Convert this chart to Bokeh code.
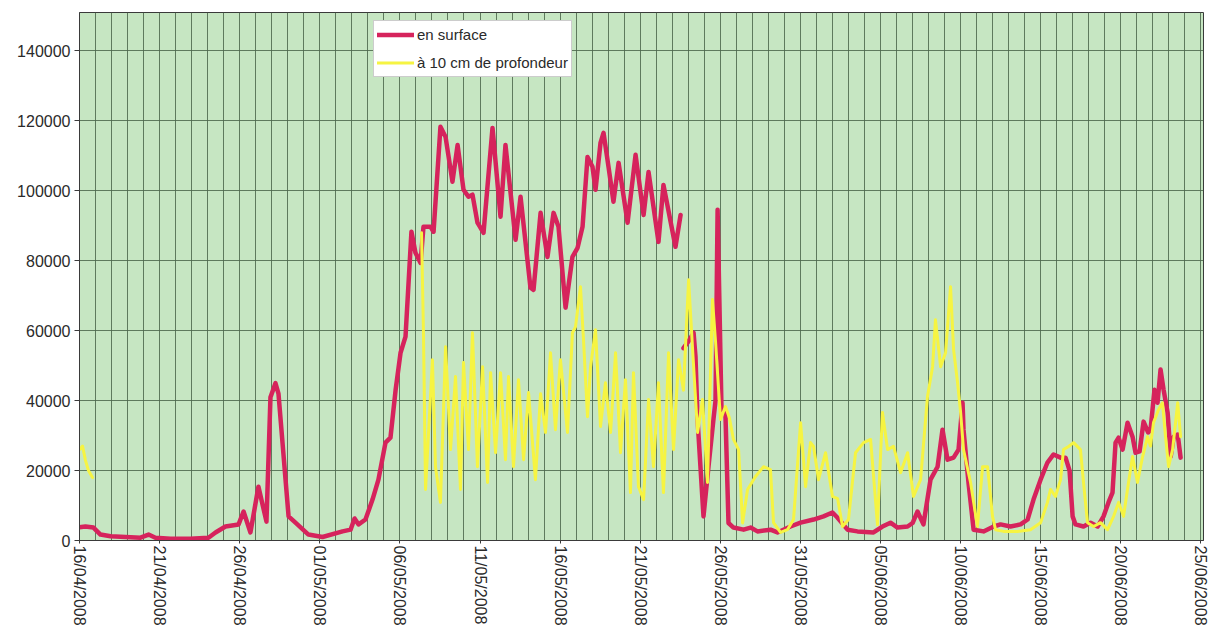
import math
from bokeh.plotting import figure
from bokeh.models import Legend, FixedTicker, NumeralTickFormatter, Range1d
from bokeh.embed import file_html
from bokeh.resources import INLINE

nan = float("nan")

# x values: days elapsed since 16/04/2008 00:00
red_days = [0.00, 0.37, 0.87, 1.31, 1.94, 2.87, 3.81, 4.31, 4.74, 5.68, 6.93, 8.05, 8.49, 9.11,
            9.93, 10.24, 10.67, 11.17, 11.67, 11.92, 12.23, 12.42, 13.05, 13.48, 14.29, 15.17,
            16.42, 16.92, 17.17, 17.42, 17.85, 18.29, 18.66, 19.10, 19.41, 19.73, 20.04, 20.35,
            20.72, 20.97, 21.29, 21.47, 21.91, 22.10, 22.53, 22.85, 23.28, 23.60, 23.97, 24.28,
            24.53, 24.84, 25.22, 25.78, 26.28, 26.59, 27.22, 27.53, 28.15, 28.34, 28.78, 29.21,
            29.59, 29.90, 30.34, 30.77, 31.09, 31.40, 31.71, 32.02, 32.21, 32.52, 32.71, 33.02,
            33.33, 33.65, 34.21, 34.71, 35.21, 35.52, 36.14, 36.45, 37.20, 37.52, 37.60, 37.70,
            38.02, 38.33, 38.45, 38.58, 38.95, 39.26, 39.58, 39.70, 39.83, 40.07, 40.32, 40.51,
            40.82, 41.45, 41.89, 42.32, 43.13, 43.57, 44.38, 45.01, 45.82, 46.44, 47.00, 47.32,
            47.94, 48.56, 49.56, 50.12, 50.62, 51.06, 51.69, 52.00, 52.31, 52.68, 53.12, 53.56,
            53.87, 54.18, 54.56, 54.87, 55.12, 55.18, 55.49, 55.81, 56.43, 57.06, 57.49, 58.11,
            58.74, 59.18, 59.55, 59.99, 60.42, 60.80, 61.24, 61.55, 61.80, 61.99, 62.17, 62.67,
            63.11, 63.55, 63.92, 64.23, 64.48, 64.67, 64.86, 65.11, 65.42, 65.73, 65.92, 66.17,
            66.42, 66.70, 66.85, 67.10, 67.29, 67.48, 67.67, 67.92, 68.11, 68.30, 68.55, 68.73]
red_values = [3800, 4000, 3700, 1700, 1200, 1000, 800, 1700, 800, 500, 500, 800, 2300, 4000,
              4600, 8300, 2300, 15400, 5400, 41000, 45000, 42000, 6900, 5100, 1700, 1000,
              2600, 3100, 6300, 4600, 6000, 11700, 17400, 28000, 29400, 43000, 53700, 58300,
              88300, 82300, 79400, 89700, 89700, 88300, 118300, 115400, 102600, 113100, 100300, 98300,
              98900, 90900, 88000, 118000, 92600, 113100, 86000, 98300, 72300, 71700, 93700, 81100,
              93700, 89700, 66600, 81100, 83700, 89700, 109700, 106900, 100300, 113700, 116600, 106900,
              96900, 108000, 90900, 110300, 93100, 105400, 85400, 101700, 84000, 93100, nan, 55000,
              57000, 59400, 52600, 34600, 6900, 21100, 35000, 40000, 94600, 38000, 36000, 5000,
              3700, 3100, 3700, 2600, 3100, 2300, 4000, 5100, 6000, 6900, 8000, 6500,
              3100, 2600, 2300, 4000, 5100, 3700, 4000, 5000, 8300, 4600, 17400, 21100,
              31700, 23100, 23700, 26000, 39400, 31700, 16600, 3100, 2600, 4000, 4600, 4000,
              4600, 6000, 11700, 17400, 22300, 24600, 23700, 23700, 20000, 6900, 4600, 4000,
              5100, 4000, 6900, 10900, 13700, 28000, 29400, 26000, 33700, 29700, 25100, 25500,
              34000, 30900, 31500, 43100, 39400, 48900, 43100, 36600, 24000, 29700, 30300, 23700]

yellow_days = [0.00, 0.19, 0.37, 0.56, 0.81, 1.00, 21.35, 21.47, 21.60, 22.03, 22.22, 22.53,
               22.85, 23.16, 23.47, 23.78, 23.97, 24.28, 24.53, 24.84, 25.16, 25.47, 25.66, 25.97,
               26.28, 26.59, 26.78, 27.09, 27.40, 27.72, 28.03, 28.46, 28.78, 29.09, 29.40, 29.71,
               30.02, 30.46, 30.77, 30.96, 31.27, 31.46, 31.71, 31.90, 32.21, 32.52, 32.83, 33.15,
               33.46, 33.77, 34.08, 34.39, 34.58, 34.89, 35.21, 35.52, 35.83, 36.14, 36.45, 36.77,
               37.08, 37.39, 37.70, 38.02, 38.27, 38.58, 38.89, 39.20, 39.51, 39.70, 40.01, 40.32,
               40.57, 40.82, 41.14, 41.39, 41.70, 42.20, 42.70, 43.13, 43.32, 43.76, 44.19, 44.57,
               45.01, 45.32, 45.63, 45.82, 46.13, 46.57, 47.00, 47.32, 47.63, 48.00, 48.44, 48.94,
               49.38, 49.81, 50.12, 50.44, 50.81, 51.25, 51.69, 52.06, 52.50, 52.93, 53.25, 53.43,
               53.75, 54.06, 54.37, 54.56, 54.81, 55.00, 55.18, 55.62, 56.05, 56.37, 56.68, 56.99,
               57.18, 57.68, 58.55, 59.36, 59.99, 60.42, 60.61, 60.92, 61.24, 61.42, 61.74, 62.05,
               62.48, 62.67, 62.92, 63.30, 63.73, 64.17, 64.55, 64.86, 65.17, 65.48, 65.73, 66.04,
               66.36, 66.67, 66.85, 67.04, 67.35, 67.60, 67.79, 67.98, 68.23, 68.55, 68.73]
yellow_values = [26000, 27000, 23000, 20000, 18000, nan, 88000, 59400, 14600, 51700, 21100, 10900,
                 55400, 26000, 46900, 14600, 50900, 26000, 59400, 21100, 49700, 16600, 48000, 25100,
                 48000, 23100, 46900, 21100, 46000, 23100, 42300, 17400, 42000, 30900, 53700, 31700,
                 51700, 30900, 59400, 61100, 72600, 57400, 35400, 49700, 60300, 32600, 45100, 30900,
                 53700, 25100, 46000, 13700, 48000, 15400, 11700, 40300, 21100, 45100, 13700, 53700,
                 26000, 51700, 43000, 74600, 54600, 30900, 40300, 16600, 68900, 57000, 34600, 38300,
                 35000, 28900, 26000, 5000, 14600, 18300, 21100, 20300, 5100, 2300, 3100, 6000,
                 33700, 15400, 28000, 26900, 17400, 25100, 12600, 12000, 4000, 6000, 25100, 28000,
                 28900, 4500, 36600, 26000, 26900, 19400, 25100, 12600, 17400, 41100, 49700, 63100,
                 49700, 53700, 72600, 54600, 45100, 36600, 26000, 16600, 4000, 21100, 21100, 6900,
                 3100, 2600, 2600, 3100, 5100, 10900, 14600, 12600, 17400, 26000, 26900, 28000,
                 26000, 16600, 5100, 4000, 5100, 3100, 6900, 10900, 6900, 16600, 24000, 16600,
                 24000, 29700, 27000, 33700, 37400, 39400, 29700, 21100, 26000, 39400, 29700]

tick_days = [0, 5, 10, 15, 20, 25, 30, 35, 40, 45, 50, 55, 60, 65, 70]
tick_labels = ["16/04/2008", "21/04/2008", "26/04/2008", "01/05/2008", "06/05/2008",
               "11/05/2008", "16/05/2008", "21/05/2008", "26/05/2008", "31/05/2008",
               "05/06/2008", "10/06/2008", "15/06/2008", "20/06/2008", "25/06/2008"]
y_ticks = [0, 20000, 40000, 60000, 80000, 100000, 120000, 140000]
series_names = ["en surface", "à 10 cm de profondeur"]

FONT = "Liberation Sans"

p = figure(width=1211, height=628, output_backend="svg", toolbar_location=None,
           x_range=Range1d(0, 70.16), y_range=Range1d(0, 151000),
           min_border_left=79, min_border_right=8, min_border_top=12, min_border_bottom=87)

p.background_fill_color = "#c6e6c2"
p.border_fill_color = "white"
p.outline_line_color = "#3a3a3a"
p.outline_line_width = 1

# grids
p.xgrid.ticker = FixedTicker(ticks=list(range(0, 71)))
p.xgrid.grid_line_color = "#4b664b"
p.xgrid.grid_line_alpha = 0.85
p.xgrid.grid_line_width = 1
p.ygrid.ticker = FixedTicker(ticks=y_ticks)
p.ygrid.grid_line_color = "#4b664b"
p.ygrid.grid_line_alpha = 0.85
p.ygrid.grid_line_width = 1

# axes
p.xaxis.ticker = FixedTicker(ticks=tick_days)
p.xaxis.major_label_overrides = {d: lab for d, lab in zip(tick_days, tick_labels)}
p.xaxis.major_label_orientation = -math.pi / 2
p.xaxis.major_label_text_font = FONT
p.xaxis.major_label_text_font_size = "16px"
p.xaxis.major_label_text_color = "#2a2a2a"
p.xaxis.major_label_standoff = 2
p.xaxis.major_tick_out = 3
p.xaxis.major_tick_in = 0
p.xaxis.minor_tick_line_color = None
p.xaxis.axis_line_color = "#3a3a3a"
p.xaxis.major_tick_line_color = "#3a3a3a"

p.yaxis.ticker = FixedTicker(ticks=y_ticks)
p.yaxis.formatter = NumeralTickFormatter(format="0")
p.yaxis.major_label_text_font = FONT
p.yaxis.major_label_text_font_size = "16px"
p.yaxis.major_label_text_color = "#2a2a2a"
p.yaxis.major_label_standoff = 4
p.yaxis.major_tick_out = 5
p.yaxis.major_tick_in = 0
p.yaxis.minor_tick_line_color = None
p.yaxis.axis_line_color = "#3a3a3a"
p.yaxis.major_tick_line_color = "#3a3a3a"

r_red = p.line(red_days, red_values, line_color="#d6235c", line_width=4.5,
               line_join="round", line_cap="round")
r_yel = p.line(yellow_days, yellow_values, line_color="#f6f442", line_width=3,
               line_join="round", line_cap="round")

legend = Legend(items=[(series_names[0], [r_red]), (series_names[1], [r_yel])],
                location=(294, 463), padding=3, spacing=7, margin=0,
                glyph_width=37, glyph_height=21, label_standoff=3,
                label_text_font=FONT, label_text_font_size="15px", label_text_color="#2a2a2a",
                border_line_color="#9a9a9a", border_line_width=1,
                background_fill_color="white", background_fill_alpha=1)
p.add_layout(legend)

open("out.html", "w").write(file_html(p, INLINE))
